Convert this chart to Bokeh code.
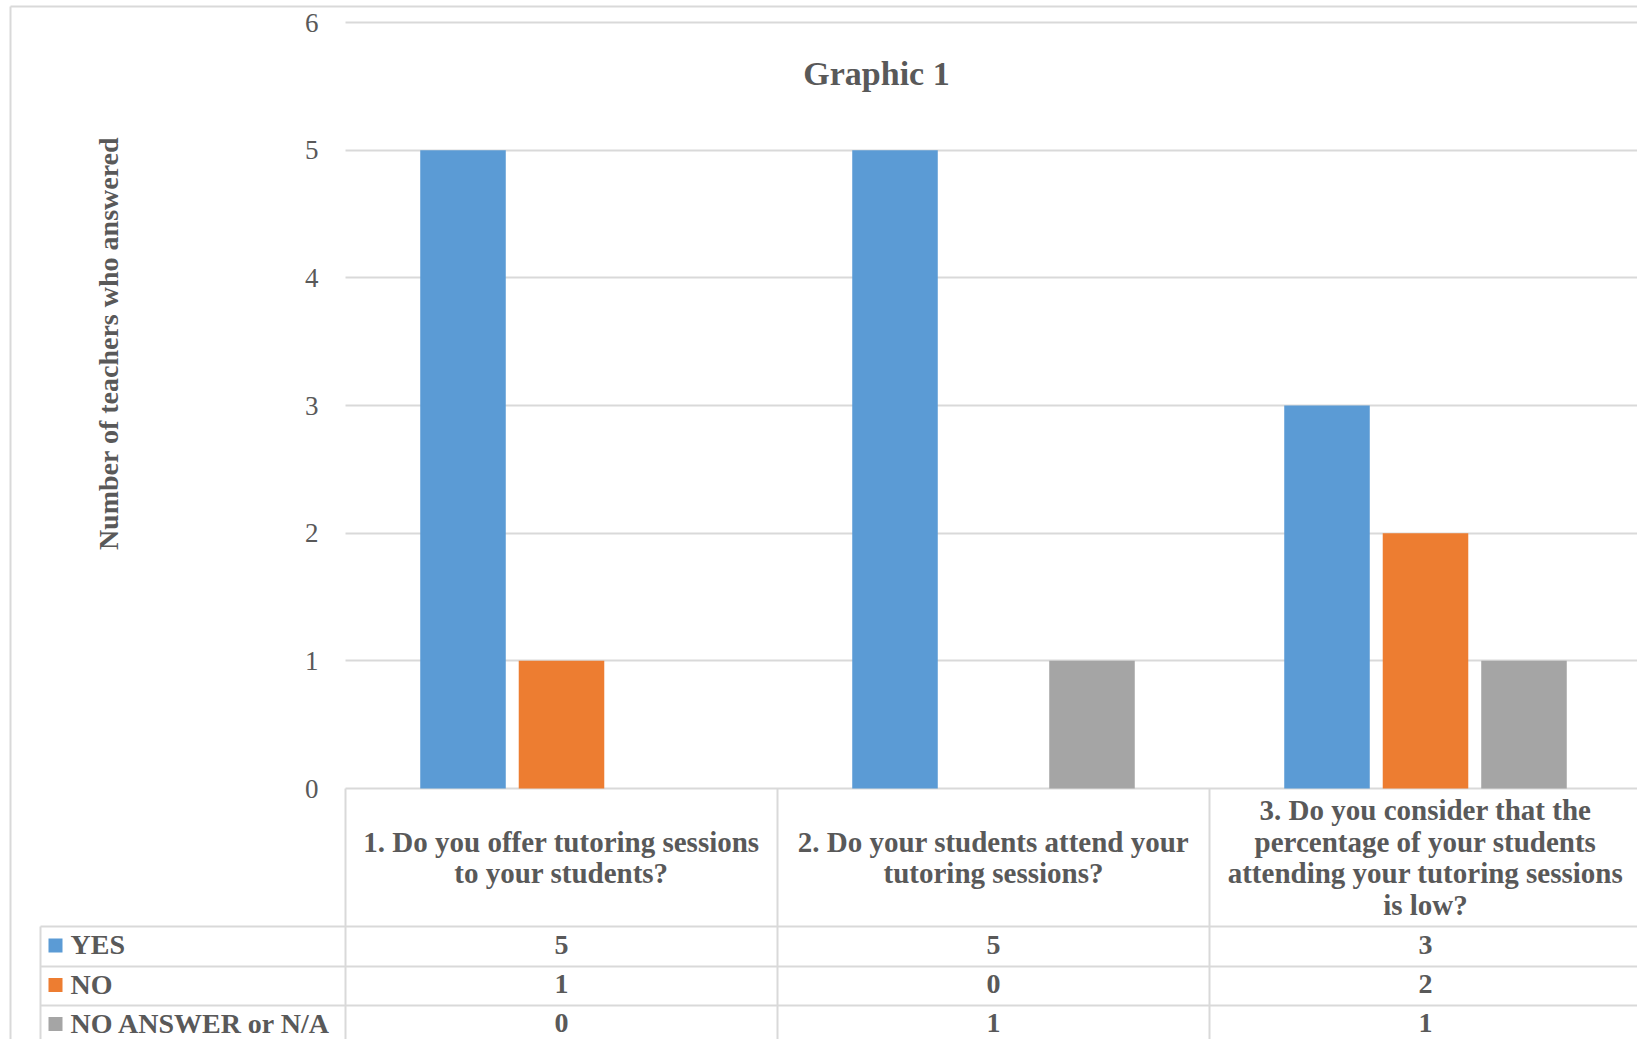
import math

from bokeh.plotting import figure
from bokeh.models import Range1d, LinearAxis, FixedTicker, Grid, Label
from bokeh.core.properties import value
from bokeh.embed import file_html
from bokeh.resources import INLINE

# ---- data -----------------------------------------------------------------
QUESTIONS = [
    "1. Do you offer tutoring sessions\nto your students?",
    "2. Do your students attend your\ntutoring sessions?",
    "3. Do you consider that the\npercentage of your students\nattending your tutoring sessions\nis low?",
]
SERIES = ["YES", "NO", "NO ANSWER or N/A"]
YES = [5, 5, 3]
NO = [1, 0, 2]
NO_ANSWER = [0, 1, 1]
Y_TICKS = [0, 1, 2, 3, 4, 5, 6]

TITLE = "Graphic 1"
Y_LABEL = "Number of teachers who answered"

# ---- style ----------------------------------------------------------------
COLORS = ["#5B9BD5", "#ED7D31", "#A5A5A5"]
TEXT = "#595959"
RULE = "#D9D9D9"
FONT = "Liberation Serif"

# ---- canvas geometry (pixels) ---------------------------------------------
W, H = 1637, 1039
PLOT_LEFT = 345          # left edge of the first category column
CAT_PX = 432             # width of one category column
ZERO_PX = 788            # vertical position of value 0
TOP_PX = 22              # vertical position of the top tick
Y_MAX = Y_TICKS[-1]
UNIT_PX = (ZERO_PX - TOP_PX) / Y_MAX

HEADER_BOTTOM = 926
ROW_EDGES = [926, 966, 1005, 1044]
LEGEND_LEFT = 40
BORDER_LEFT, BORDER_TOP = 10, 6

BAR_WIDTH = 0.198
BAR_STEP = 0.228


def dx(px):
    return (px - PLOT_LEFT) / CAT_PX


def dy(py):
    return (ZERO_PX - py) / UNIT_PX


n = len(QUESTIONS)
centers = [i + 0.5 for i in range(n)]

p = figure(
    width=W, height=H, output_backend="svg", toolbar_location=None, tools="",
    x_range=Range1d(dx(0), dx(W)), y_range=Range1d(dy(H), dy(0)),
    x_axis_location=None, y_axis_location=None, min_border=0,
    outline_line_color=None, background_fill_color="white",
    border_fill_color="white",
)
p.grid.visible = False

# horizontal gridlines, starting at the value axis
grid = Grid(dimension=1, ticker=FixedTicker(ticks=Y_TICKS),
            grid_line_color=RULE, grid_line_width=2, cross_bounds=(0, n))
p.add_layout(grid)

# value axis pinned to the left edge of the category area
yaxis = LinearAxis(
    fixed_location=0, ticker=FixedTicker(ticks=Y_TICKS),
    axis_line_color=None, major_tick_line_color=None, minor_tick_line_color=None,
    major_tick_out=0, major_tick_in=0, major_label_standoff=27,
    major_label_text_font=FONT, major_label_text_font_size="27px",
    major_label_text_color=TEXT,
)
p.add_layout(yaxis, "left")

# clustered bars
series_values = [YES, NO, NO_ANSWER]
for i, vals in enumerate(series_values):
    off = (i - 1) * BAR_STEP
    p.vbar(x=[c + off for c in centers], top=vals, bottom=0, width=BAR_WIDTH,
           fill_color=COLORS[i], line_color=None)

# outer chart border (left and top edges)
p.segment(x0=[dx(BORDER_LEFT), dx(BORDER_LEFT)], y0=[dy(BORDER_TOP), dy(BORDER_TOP)],
          x1=[dx(BORDER_LEFT), dx(W + 5)], y1=[dy(H + 5), dy(BORDER_TOP)],
          line_color=RULE, line_width=2)

# data table under the plot
h_y = [dy(r) for r in ROW_EDGES[:-1]]
p.segment(x0=[dx(LEGEND_LEFT)] * len(h_y), y0=h_y, x1=[dx(W + 5)] * len(h_y), y1=h_y,
          line_color=RULE, line_width=2)
v_x = list(range(n + 1))
p.segment(x0=v_x, y0=[0] * len(v_x), x1=v_x, y1=[dy(H + 5)] * len(v_x),
          line_color=RULE, line_width=2)
p.segment(x0=[dx(LEGEND_LEFT)], y0=[dy(HEADER_BOTTOM)], x1=[dx(LEGEND_LEFT)], y1=[dy(H + 5)],
          line_color=RULE, line_width=2)

# question headers
p.text(x=centers, y=[dy((ZERO_PX + HEADER_BOTTOM) / 2)] * n, text=QUESTIONS,
       text_font=value(FONT), text_font_size=value("29px"), text_font_style="bold",
       text_color=TEXT, text_align="center", text_baseline="middle",
       text_line_height=0.98)

# table rows: legend key, series name and values
row_mid = [(ROW_EDGES[k] + ROW_EDGES[k + 1]) / 2 - 2 for k in range(len(SERIES))]
p.scatter(x=[dx(55)] * len(SERIES), y=[dy(m + 1) for m in row_mid], marker="square",
          size=14, fill_color=COLORS, line_color=None)
p.text(x=[dx(70)] * len(SERIES), y=[dy(m) for m in row_mid], text=SERIES,
       text_font=value(FONT), text_font_size=value("28px"), text_font_style="bold",
       text_color=TEXT, text_align="left", text_baseline="middle")
for k, vals in enumerate(series_values):
    p.text(x=centers, y=[dy(row_mid[k])] * n, text=[str(v) for v in vals],
           text_font=value(FONT), text_font_size=value("28px"), text_font_style="bold",
           text_color=TEXT, text_align="center", text_baseline="middle")

# chart title and value-axis title
p.add_layout(Label(x=dx(876), y=dy(73), text=TITLE, text_font=FONT,
                   text_font_size="34px", text_font_style="bold", text_color=TEXT,
                   text_align="center", text_baseline="middle"))
p.add_layout(Label(x=dx(108), y=dy(343), text=Y_LABEL, angle=math.pi / 2,
                   text_font=FONT, text_font_size="28px", text_font_style="bold",
                   text_color=TEXT, text_align="center", text_baseline="middle"))

open("out.html", "w").write(file_html(p, INLINE))
